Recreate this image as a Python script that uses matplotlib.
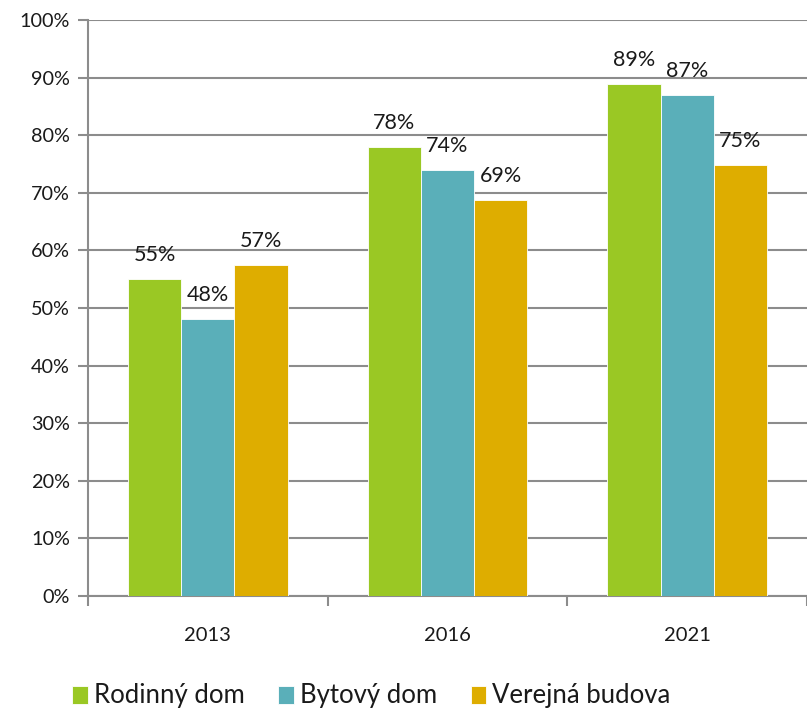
import matplotlib
matplotlib.use("Agg")
import matplotlib.pyplot as plt
import numpy as np
from matplotlib.ticker import FixedLocator, NullFormatter

years = ["2013", "2016", "2021"]
series = ["Rodinný dom", "Bytový dom", "Verejná budova"]
rodinny = [55.0, 78.0, 88.9]
bytovy = [48.1, 74.0, 87.0]
verejna = [57.4, 68.8, 74.8]
colors = ["#9AC824", "#5AAFB9", "#DEAD00"]
yticks = list(range(0, 101, 10))

plt.rcParams['font.family'] = ['Lato', 'DejaVu Sans']

fig = plt.figure(figsize=(8.07, 7.11), dpi=100)
ax = fig.add_axes([88/807, 1-596/711, 1-88/807, (596-20)/711])

x = np.arange(len(years))
w = 2/9
data = [rodinny, bytovy, verejna]
for i, (vals, c, name) in enumerate(zip(data, colors, series)):
    pos = x + (i - 1) * w
    ax.bar(pos, vals, width=w, color=c, edgecolor="white", linewidth=0.6, label=name, zorder=3)
    for px, v in zip(pos, vals):
        ax.annotate(f"{round(v):d}%", (px, v), xytext=(0, 10), textcoords="offset points",
                    ha="center", va="bottom", fontsize=15.5, color="#1a1a1a", zorder=4)

ax.set_xlim(-0.5, len(years) - 0.5)
ax.set_ylim(0, 100)
ax.set_yticks(yticks)
ax.set_yticklabels([f"{t}%" for t in yticks], fontsize=14.3, color="#1a1a1a")
ax.yaxis.grid(True, color="#8c8c8c", linewidth=1.5, zorder=0)
ax.set_axisbelow(True)

ax.set_xticks(x)
ax.set_xticklabels(years, fontsize=14.5, color="#1a1a1a")
ax.xaxis.set_minor_locator(FixedLocator(np.arange(-0.5, len(years), 1.0)))
ax.xaxis.set_minor_formatter(NullFormatter())
ax.tick_params(axis="x", which="major", length=0, pad=22)
ax.tick_params(axis="x", which="minor", length=7, width=1.5, color="#8c8c8c")
ax.tick_params(axis="y", length=7, width=1.5, color="#8c8c8c", pad=6)

for s in ["top", "right"]:
    ax.spines[s].set_visible(False)
for s in ["left", "bottom"]:
    ax.spines[s].set_color("#8c8c8c")
    ax.spines[s].set_linewidth(1.5)

handles, labels = ax.get_legend_handles_labels()
fig.legend(handles, labels, loc="center left", bbox_to_anchor=(62/807, 1-696/711),
           ncol=3, frameon=False, fontsize=18.5, handlelength=0.6, handleheight=0.7,
           handletextpad=0.25, columnspacing=1.3, borderaxespad=0, labelcolor="#1a1a1a")

fig.savefig("out.png", dpi=100)
